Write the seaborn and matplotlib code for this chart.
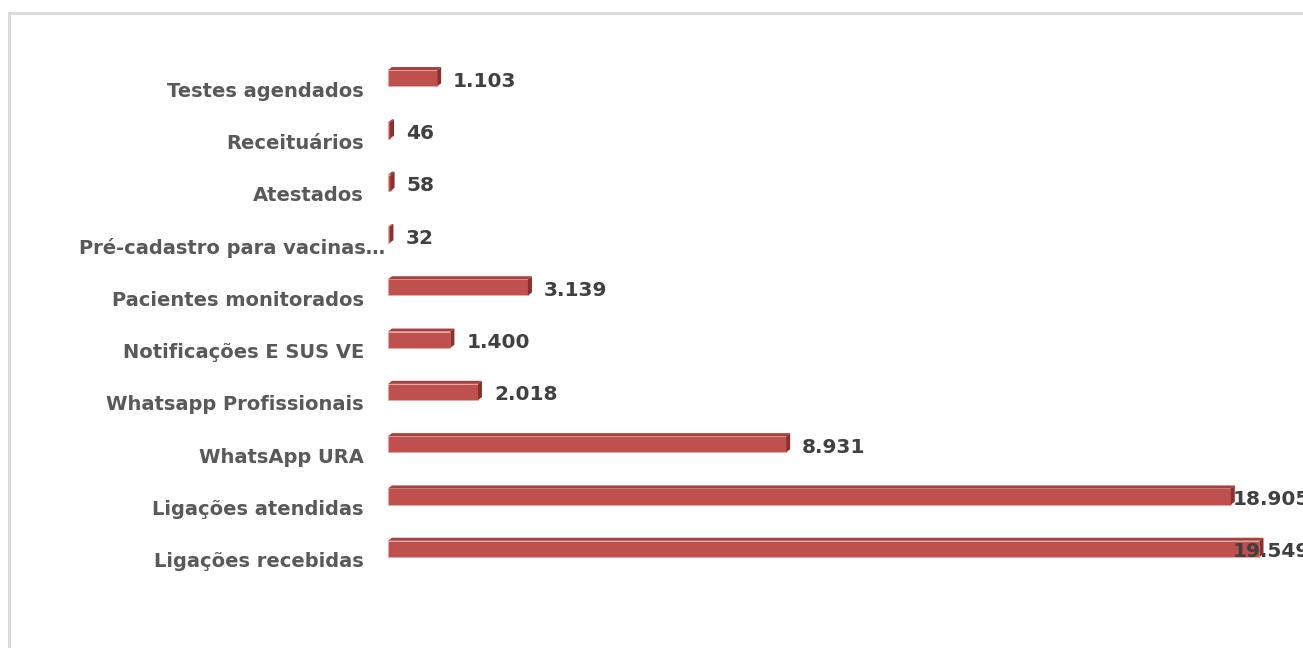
import matplotlib
matplotlib.use("Agg")
import matplotlib.pyplot as plt
import matplotlib.transforms as mtransforms
from matplotlib.patches import Polygon, Rectangle
import seaborn as sns
import pandas as pd

# data (top to bottom)
categories = [
    "Testes agendados",
    "Receituários",
    "Atestados",
    "Pré-cadastro para vacinas…",
    "Pacientes monitorados",
    "Notificações E SUS VE",
    "Whatsapp Profissionais",
    "WhatsApp URA",
    "Ligações atendidas",
    "Ligações recebidas",
]
values = [1103, 46, 58, 32, 3139, 1400, 2018, 8931, 18905, 19549]

df = pd.DataFrame({"categoria": categories, "total": values})

sns.set_theme(style="white")
plt.rcParams["font.family"] = ["DejaVu Sans"]

W, H, DPI = 1303, 648, 100
fig = plt.figure(figsize=(W / DPI, H / DPI), dpi=DPI)
# axes placed in pixel terms of the reference
ax = fig.add_axes([388 / W, (H - 575) / H, (W - 388) / W, 523 / H])

FRONT = "#C0504D"
TOP = "#A5403D"
SIDE = "#8C302E"

sns.barplot(data=df, y="categoria", x="total", order=categories, orient="h",
            color=FRONT, width=0.31, saturation=1, ax=ax,
            edgecolor="#E8A9A7", linewidth=0.6)

ax.set_xlim(0, (W - 388) / 0.04458)
ax.set_ylim(len(categories) - 0.5, -0.5)
ax.set_xlabel("")
ax.set_ylabel("")
ax.set_xticks([])
ax.set_yticks([])
for s in ax.spines.values():
    s.set_visible(False)

# light grey chart border (cut off at right and bottom like the source)
fig.patches.append(Rectangle((9 / W, -0.2), 2.0, 1.2 - 13 / H, transform=fig.transFigure,
                             fill=False, edgecolor="#D9D9D9", linewidth=2, zorder=0))

# fake 3D depth: top and side faces built from the drawn bars
fig.canvas.draw()
dx, dy = 4, 3
for p in ax.patches:
    bb = p.get_window_extent()
    x0, x1, yb, yt = bb.x0, bb.x1, bb.y0, bb.y1
    top = Polygon([(x0, yt), (x1, yt), (x1 + dx, yt + dy), (x0 + dx, yt + dy)],
                  closed=True, transform=None, facecolor=TOP, edgecolor="none", zorder=3)
    side = Polygon([(x1, yb), (x1, yt), (x1 + dx, yt + dy), (x1 + dx, yb + dy)],
                   closed=True, transform=None, facecolor=SIDE, edgecolor="none", zorder=3)
    fig.artists.append(top)
    fig.artists.append(side)

# category labels, sitting a bit below the bar like the 3D projection
ytrans = ax.get_yaxis_transform()
for i, cat in enumerate(categories):
    shift = 21 if cat.endswith("…") else 0
    off = mtransforms.ScaledTranslation((-24 + shift) / DPI, -13 / DPI, fig.dpi_scale_trans)
    ax.text(0, i, cat, transform=ytrans + off, ha="right", va="center",
            fontsize=14, fontweight="bold", color="#595959", clip_on=False)

# value labels
label_max = (1233 - 388) / 0.04458
for i, v in enumerate(values):
    txt = f"{v:,}".replace(",", ".")
    xpos = v
    xoff = mtransforms.ScaledTranslation(16 / DPI, -3 / DPI, fig.dpi_scale_trans)
    if v * 0.04458 + 16 > 1233 - 388:
        xpos = label_max
        xoff = mtransforms.ScaledTranslation(0, -3 / DPI, fig.dpi_scale_trans)
    ax.text(xpos, i, txt, transform=ax.transData + xoff, ha="left", va="center",
            fontsize=14.5, fontweight="bold", color="#404040", clip_on=False, zorder=5)

fig.savefig("out.png", dpi=DPI, facecolor="white")
